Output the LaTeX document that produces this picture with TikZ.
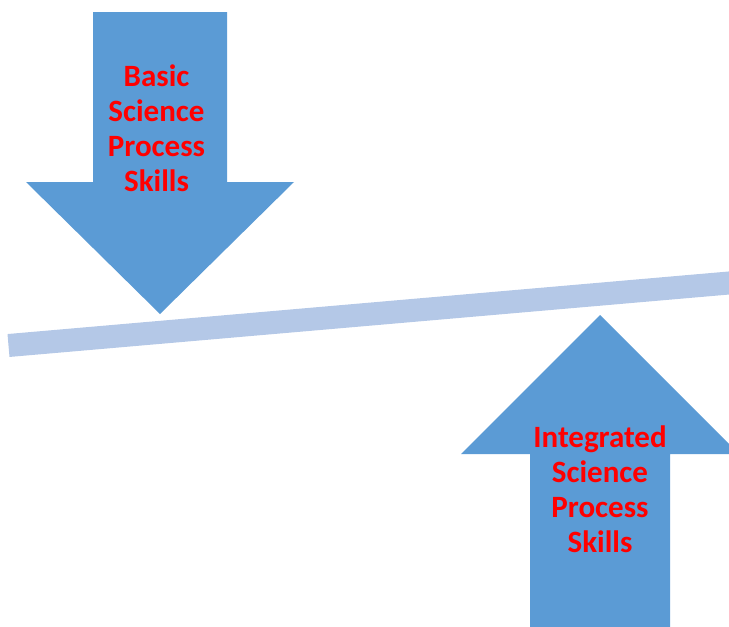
\documentclass[tikz,border=0pt]{standalone}
\usepackage{fontspec}
\setmainfont{Carlito}
\definecolor{arrowblue}{HTML}{5B9BD5}
\definecolor{barblue}{HTML}{B4C8E7}
\definecolor{labelred}{HTML}{FF0000}
\begin{document}
\begin{tikzpicture}[x=1pt,y=-1pt,
  blockarrow/.style={fill=arrowblue,draw=none},
  label/.style={text=labelred,font=\bfseries\fontsize{31}{35}\selectfont,
    align=center,inner sep=0pt,anchor=north}]
  \useasboundingbox (0,0) rectangle (729,627);
  \clip (0,0) rectangle (729,627);
  % tilted balance beam
  \draw[barblue,line width=23pt,line cap=butt] (8.5,345.5) -- (760,280.3);
  % downward arrow
  \fill[blockarrow] (93,12) -- (227,12) -- (227,182) -- (294,182)
    -- (160,314) -- (26,182) -- (93,182) -- cycle;
  % upward arrow
  \fill[blockarrow] (530,640) -- (530,454) -- (461,454) -- (600,315)
    -- (739,454) -- (670,454) -- (670,640) -- cycle;
  \node[label] (basic) at (156.5,64.5) {Basic\\Science\\Process\\Skills};
  \node[label] (integrated) at (600,426) {Integrated\\Science\\Process\\Skills};
\end{tikzpicture}
\end{document}
